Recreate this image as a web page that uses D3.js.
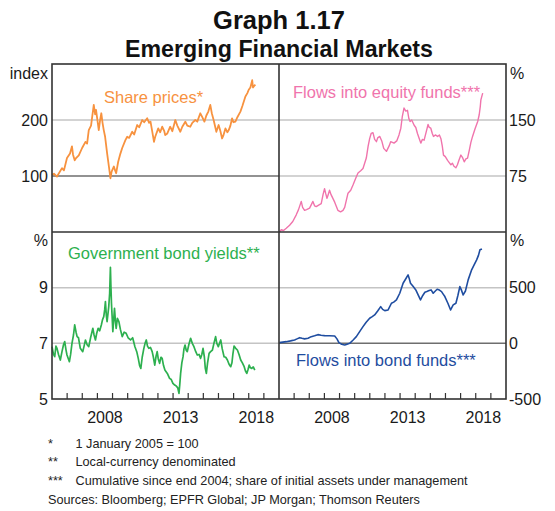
<!DOCTYPE html>
<html><head><meta charset="utf-8">
<script src="https://cdn.jsdelivr.net/npm/d3@7"></script>
<style>
body{margin:0;background:#fff;}
svg{display:block;font-family:"Liberation Sans",Arial,sans-serif;}
</style></head><body>
<svg id="c" width="555" height="511"></svg>
<script>
// ---------- data (decimal years) ----------
const sharePriceDates = [2005.00,2005.13,2005.33,2005.66,2005.79,2005.99,2006.19,2006.32,2006.39,2006.50,2006.59,2006.77,2006.99,2007.21,2007.32,2007.43,2007.58,2007.76,2007.85,2007.91,2008.09,2008.18,2008.26,2008.34,2008.42,2008.51,2008.64,2008.77,2008.86,2008.94,2009.09,2009.17,2009.24,2009.37,2009.52,2009.64,2009.85,2009.97,2010.10,2010.30,2010.43,2010.63,2010.76,2010.96,2011.09,2011.29,2011.42,2011.51,2011.62,2011.74,2011.82,2012.02,2012.15,2012.28,2012.42,2012.48,2012.62,2012.81,2012.95,2013.15,2013.28,2013.48,2013.61,2013.81,2013.94,2014.14,2014.27,2014.47,2014.60,2014.80,2014.93,2015.07,2015.20,2015.33,2015.46,2015.56,2015.68,2015.86,2016.01,2016.13,2016.24,2016.32,2016.46,2016.59,2016.68,2016.79,2016.90,2016.99,2017.12,2017.25,2017.45,2017.58,2017.78,2017.91,2018.00,2018.11,2018.23,2018.28,2018.33,2018.44];
const sharePriceValues = [102,104,99,114,110,132,140,153,138,128,132,137,150,161,158,182,190,227,210,218,182,200,212,195,182,170,141,115,96,108,117,110,105,125,140,150,164,170,168,179,174,191,187,200,196,203,195,197,180,161,170,185,178,188,180,173,176,188,180,200,190,179,188,197,190,188,195,200,197,212,205,197,208,215,227,212,200,179,191,180,167,172,185,178,182,190,203,196,197,205,215,225,242,248,254,258,271,258,260,263];

const equityFlowDates = [2005.03,2005.15,2005.30,2005.48,2005.70,2005.91,2006.14,2006.29,2006.47,2006.56,2006.69,2006.82,2007.02,2007.12,2007.24,2007.35,2007.46,2007.62,2007.79,2007.91,2008.01,2008.08,2008.17,2008.25,2008.34,2008.44,2008.56,2008.68,2008.89,2009.07,2009.23,2009.34,2009.56,2009.74,2009.89,2010.07,2010.22,2010.40,2010.55,2010.66,2010.77,2010.89,2010.99,2011.09,2011.21,2011.32,2011.44,2011.52,2011.66,2011.79,2011.92,2012.10,2012.27,2012.38,2012.60,2012.78,2012.93,2013.05,2013.15,2013.26,2013.38,2013.49,2013.58,2013.66,2013.77,2013.93,2014.04,2014.15,2014.27,2014.37,2014.47,2014.59,2014.74,2014.85,2014.93,2015.03,2015.13,2015.21,2015.33,2015.48,2015.60,2015.70,2015.79,2015.87,2015.99,2016.14,2016.25,2016.36,2016.46,2016.56,2016.69,2016.79,2016.89,2017.02,2017.12,2017.24,2017.35,2017.46,2017.58,2017.68,2017.79,2017.95,2018.13,2018.23,2018.30,2018.34,2018.46];
const equityFlowValues = [0,3,2,5,9,14,23,30,41,33,29,30,32,36,41,35,34,36,38,50,58,52,45,50,56,50,45,40,29,27,29,33,52,56,63,72,79,82,85,92,99,115,125,132,133,124,121,126,128,122,112,108,115,121,119,122,130,139,155,166,162,163,152,148,150,143,140,132,125,119,124,123,135,144,140,139,132,128,130,128,130,125,115,103,101,96,93,90,92,88,86,90,96,103,100,94,98,99,110,120,128,138,148,157,168,177,186];

const bondYieldDates = [2005.00,2005.10,2005.18,2005.26,2005.33,2005.43,2005.55,2005.66,2005.76,2005.84,2005.93,2005.99,2006.15,2006.23,2006.32,2006.42,2006.50,2006.59,2006.66,2006.75,2006.87,2007.03,2007.12,2007.21,2007.32,2007.43,2007.55,2007.70,2007.78,2007.87,2007.95,2008.05,2008.15,2008.26,2008.34,2008.42,2008.48,2008.53,2008.59,2008.64,2008.75,2008.81,2008.86,2008.89,2008.93,2008.97,2009.02,2009.07,2009.13,2009.19,2009.24,2009.32,2009.42,2009.52,2009.64,2009.77,2009.90,2010.03,2010.19,2010.33,2010.48,2010.60,2010.70,2010.79,2010.87,2010.96,2011.07,2011.15,2011.23,2011.31,2011.40,2011.51,2011.62,2011.70,2011.79,2011.88,2011.95,2012.02,2012.11,2012.20,2012.28,2012.37,2012.46,2012.62,2012.77,2012.88,2012.99,2013.11,2013.21,2013.31,2013.39,2013.44,2013.50,2013.58,2013.66,2013.72,2013.79,2013.87,2013.94,2014.04,2014.16,2014.27,2014.38,2014.50,2014.60,2014.72,2014.82,2014.90,2014.98,2015.07,2015.13,2015.20,2015.28,2015.38,2015.48,2015.60,2015.70,2015.81,2015.89,2015.99,2016.07,2016.15,2016.25,2016.37,2016.48,2016.59,2016.70,2016.81,2016.89,2016.95,2017.03,2017.14,2017.25,2017.36,2017.47,2017.58,2017.70,2017.79,2017.87,2017.95,2018.03,2018.11,2018.20,2018.30,2018.40];
const bondYieldValues = [6.88,6.6,6.52,6.9,6.82,6.6,6.40,6.7,6.95,7.06,6.75,6.58,6.34,6.6,7.00,7.3,7.66,7.4,7.24,7.2,6.82,6.70,6.9,7.12,6.95,6.88,7.2,7.54,7.3,7.12,7.35,7.54,7.45,7.66,7.85,7.96,8.2,8.50,8.0,7.78,8.32,8.8,9.73,9.1,8.44,8.0,7.42,7.8,8.26,7.8,7.54,7.9,7.78,7.5,7.24,7.4,7.36,7.2,7.12,7.2,6.88,6.7,6.46,6.2,6.10,6.5,6.82,7.0,7.12,6.9,6.82,6.85,6.70,6.5,6.22,6.55,6.70,6.45,6.28,6.5,6.46,6.2,6.04,5.92,5.74,5.7,5.56,5.5,5.47,5.4,5.20,5.5,5.92,6.3,6.52,6.8,6.94,6.75,6.70,6.95,7.18,7.0,6.88,6.7,6.58,6.6,6.46,6.6,6.82,6.5,6.1,5.92,6.3,6.64,6.7,6.76,7.0,7.24,7.0,6.88,7.0,7.12,6.8,6.52,6.5,6.40,6.25,6.16,6.3,6.6,6.90,6.82,6.76,6.6,6.40,6.3,6.16,6.0,5.92,6.05,6.22,6.12,6.10,6.15,6.04];

const bondFlowDates = [2005.03,2005.48,2005.76,2006.03,2006.19,2006.36,2006.52,2006.69,2006.92,2007.13,2007.35,2007.57,2007.78,2008.01,2008.34,2008.68,2008.83,2008.96,2009.14,2009.34,2009.50,2009.67,2009.90,2010.11,2010.33,2010.55,2010.76,2010.99,2011.16,2011.32,2011.52,2011.72,2011.85,2011.99,2012.21,2012.43,2012.58,2012.76,2012.98,2013.20,2013.38,2013.53,2013.61,2013.69,2013.87,2014.04,2014.21,2014.35,2014.50,2014.64,2014.77,2014.92,2015.05,2015.19,2015.33,2015.45,2015.60,2015.74,2015.86,2015.96,2016.16,2016.34,2016.51,2016.69,2016.82,2016.95,2017.05,2017.17,2017.32,2017.50,2017.73,2017.91,2018.06,2018.18,2018.28,2018.41];
const bondFlowValues = [6,15,22,30,40,51,45,40,45,60,68,78,72,69,68,66,40,6,-8,-15,-8,0,30,60,105,150,190,225,240,255,290,330,305,294,300,360,370,390,450,540,580,615,580,540,510,480,430,390,430,459,465,474,480,450,470,486,478,465,440,420,360,300,345,360,430,510,480,435,470,570,660,710,750,790,840,848];

// ---------- axes / text ----------
const yearTicks = [2006,2007,2008,2009,2010,2011,2012,2013,2014,2015,2016,2017,2018,2019];
const yearLabels = [2008, 2013, 2018];
const shareTicks = [100, 200];
const equityTicks = [75, 150];
const yieldTicks = [5, 7, 9];
const bondFlowTicks = [-500, 0, 500];
const footnotes = [
  ["*", "1 January 2005 = 100"],
  ["**", "Local-currency denominated"],
  ["***", "Cumulative since end 2004; share of initial assets under management"]
];
const sources = "Sources: Bloomberg; EPFR Global; JP Morgan; Thomson Reuters";

// ---------- layout ----------
const L = 52, M = 279, R = 506, T = 64, H = 232, B = 399;
const svg = d3.select("#c");

const xl = d3.scaleLinear().domain([2005, 2020]).range([L, M]);
const xr = d3.scaleLinear().domain([2005, 2020]).range([M, R]);
const yShare = d3.scaleLinear().domain([0, 300]).range([H, T]);
const yEquity = d3.scaleLinear().domain([0, 225]).range([H, T]);
const yYield = d3.scaleLinear().domain([5, 11]).range([B, H]);
const yBond = d3.scaleLinear().domain([-500, 1000]).range([B, H]);

const gridC = "#c4c4c4", zeroC = "#6e6e6e", frameC = "#333", textC = "#1a1a1a";

function hline(x0, x1, y, c) {
  svg.append("line").attr("x1", x0).attr("x2", x1).attr("y1", y).attr("y2", y)
    .attr("stroke", c).attr("stroke-width", 1.5);
}
// gridlines
shareTicks.forEach(v => hline(L, M, yShare(v), v === 100 ? zeroC : gridC));
equityTicks.forEach(v => hline(M, R, yEquity(v), gridC));
yieldTicks.filter(v => v > 5).forEach(v => hline(L, M, yYield(v), gridC));
bondFlowTicks.filter(v => v > -500).forEach(v => hline(M, R, yBond(v), v === 0 ? zeroC : gridC));

// lines
function drawLine(dates, vals, x, y, color, w) {
  const data = dates.map((d, i) => [d, vals[i]]);
  svg.append("path").datum(data)
    .attr("fill", "none").attr("stroke", color).attr("stroke-width", w)
    .attr("stroke-linejoin", "round")
    .attr("d", d3.line().x(d => x(d[0])).y(d => y(d[1])));
}
drawLine(sharePriceDates, sharePriceValues, xl, yShare, "#f7923f", 1.8);
drawLine(equityFlowDates, equityFlowValues, xr, yEquity, "#f074ac", 1.4);
drawLine(bondYieldDates, bondYieldValues, xl, yYield, "#2db04f", 1.7);
drawLine(bondFlowDates, bondFlowValues, xr, yBond, "#1f4da0", 1.6);

// frame
svg.append("rect").attr("x", L).attr("y", T).attr("width", R - L).attr("height", B - T)
  .attr("fill", "none").attr("stroke", frameC).attr("stroke-width", 1.6);
svg.append("line").attr("x1", M).attr("x2", M).attr("y1", T).attr("y2", B).attr("stroke", frameC).attr("stroke-width", 1.6);
svg.append("line").attr("x1", L).attr("x2", R).attr("y1", H).attr("y2", H).attr("stroke", frameC).attr("stroke-width", 1.6);

// bottom year ticks (inside)
[xl, xr].forEach(x => {
  yearTicks.forEach(t => {
    svg.append("line").attr("x1", x(t)).attr("x2", x(t)).attr("y1", B).attr("y2", B - 6)
      .attr("stroke", frameC).attr("stroke-width", 1.2);
  });
  yearLabels.forEach(t => {
    svg.append("text").attr("x", x(t + 0.5)).attr("y", 422.5).attr("text-anchor", "middle")
      .attr("font-size", 16).attr("fill", textC).text(t);
  });
});

// y tick labels
function leftLabels(ticks, y) {
  ticks.forEach(v => svg.append("text").attr("x", 48).attr("y", y(v)).attr("dy", "0.36em")
    .attr("text-anchor", "end").attr("font-size", 16).attr("fill", textC).text(v));
}
function rightLabels(ticks, y) {
  ticks.forEach(v => svg.append("text").attr("x", 509).attr("y", y(v)).attr("dy", "0.36em")
    .attr("text-anchor", "start").attr("font-size", 16).attr("fill", textC).text(v));
}
leftLabels(shareTicks, yShare);
rightLabels(equityTicks, yEquity);
leftLabels(yieldTicks, yYield);
rightLabels(bondFlowTicks, yBond);
function unit(x, y, anchor, s) {
  svg.append("text").attr("x", x).attr("y", y).attr("dy", "0.36em").attr("text-anchor", anchor)
    .attr("font-size", 16).attr("fill", textC).text(s);
}
unit(48, 73, "end", "index");
unit(510, 73, "start", "%");
unit(48, 240, "end", "%");
unit(510, 240, "start", "%");

// series labels
function label(x, y, color, s) {
  svg.append("text").attr("x", x).attr("y", y).attr("font-size", 16.5).attr("fill", color).text(s);
}
label(104, 102.5, "#f7923f", "Share prices*");
label(293, 98, "#f074ac", "Flows into equity funds***");
label(68, 259, "#2db04f", "Government bond yields**");
label(296, 365.5, "#1f4da0", "Flows into bond funds***");

// titles
svg.append("text").attr("x", 279).attr("y", 28.5).attr("text-anchor", "middle")
  .attr("font-size", 25.5).attr("font-weight", "bold").attr("fill", "#111").text("Graph 1.17");
svg.append("text").attr("x", 279).attr("y", 57).attr("text-anchor", "middle")
  .attr("font-size", 23.2).attr("font-weight", "bold").attr("fill", "#111").text("Emerging Financial Markets");

// footnotes
const fnY = [447.5, 466.3, 485];
footnotes.forEach((f, i) => {
  svg.append("text").attr("x", 48).attr("y", fnY[i]).attr("font-size", 12.7).attr("fill", "#222").text(f[0]);
  svg.append("text").attr("x", 75.5).attr("y", fnY[i]).attr("font-size", 12.7).attr("fill", "#222").text(f[1]);
});
svg.append("text").attr("x", 48).attr("y", 503.8).attr("font-size", 12.7).attr("fill", "#222").text(sources);
</script>
</body></html>
